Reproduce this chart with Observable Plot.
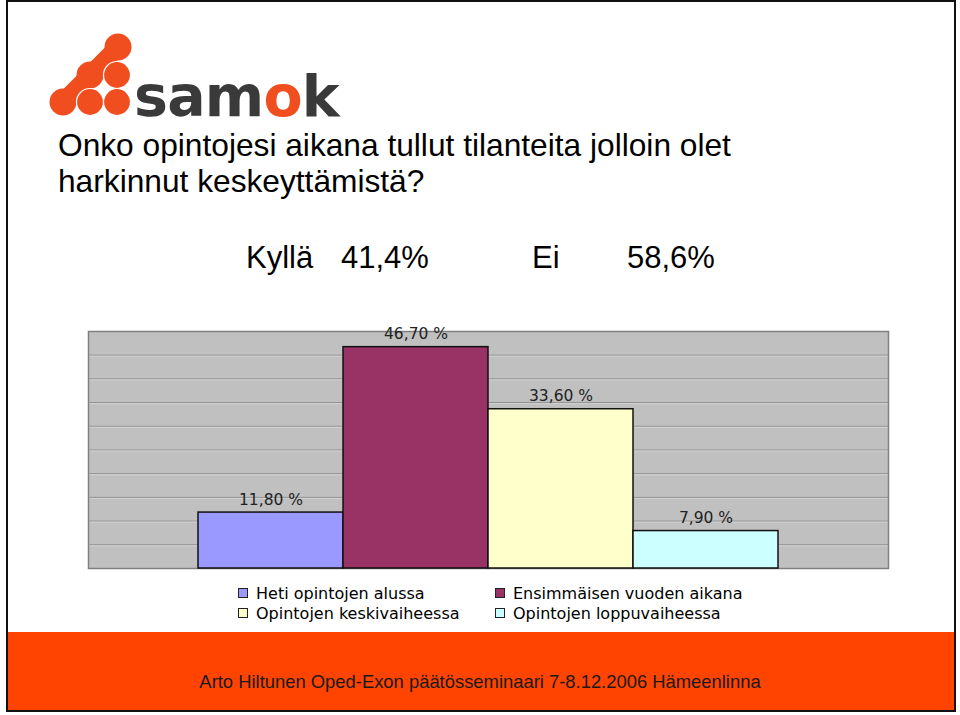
<!DOCTYPE html>
<html>
<head>
<meta charset="utf-8">
<script src="https://cdn.jsdelivr.net/npm/d3@7"></script>
<script src="https://cdn.jsdelivr.net/npm/@observablehq/plot@0.6"></script>
<style>
  html, body { margin: 0; padding: 0; background: #fff; }
  #page { position: relative; width: 960px; height: 715px; overflow: hidden; background: #fff; }
  .abs { position: absolute; }
  #frame { left: 6px; top: 0px; width: 950px; height: 712px; border: 2px solid #111; box-sizing: border-box; }
  .tline { left: 58px; font-family: "Liberation Sans", Arial, sans-serif; font-size: 31.7px; line-height: 31.7px; color: #000; white-space: nowrap; }
  .big { font-family: "Liberation Sans", Arial, sans-serif; font-size: 31px; color: #000; top: 240px; white-space: nowrap; }
  #chart { left: 0; top: 300px; }
  #legend { left: 238px; top: 584px; display: grid; grid-template-columns: 257px 260px; row-gap: 2px; font-family: "DejaVu Sans", Verdana, sans-serif; font-size: 16px; color: #000; }
  .item { display: flex; align-items: center; white-space: nowrap; height: 18px; }
  .sw { width: 8px; height: 8px; border: 1.5px solid #222; margin-right: 8px; flex: none; }
  #footer { left: 7px; top: 632px; width: 948px; height: 79px; background: #fe4400; }
  #footText { left: 0; width: 960px; top: 671px; text-align: center; font-family: "Liberation Sans", Arial, sans-serif; font-size: 18.4px; color: #1a1a1a; white-space: nowrap; }
</style>
</head>
<body>
<div id="page">
  <div id="footer" class="abs"></div>
  <div id="frame" class="abs"></div>
  <svg class="abs" style="left:0;top:0" width="420" height="129">
    <g fill="#f04e1e" stroke="#f04e1e">
      <line x1="63" y1="102" x2="90" y2="75" stroke-width="18" stroke-linecap="round"/>
      <line x1="90" y1="75" x2="118" y2="47" stroke-width="18" stroke-linecap="round"/>
      <circle cx="118" cy="47" r="13.5" stroke="none"/>
      <circle cx="90" cy="75" r="13.5" stroke="none"/>
      <circle cx="63" cy="102" r="13.5" stroke="none"/>
      <circle cx="117" cy="75" r="13.5" stroke="#fff" stroke-width="1.2"/>
      <circle cx="90" cy="102" r="13.5" stroke="#fff" stroke-width="1.2"/>
      <circle cx="117" cy="102" r="13.5" stroke="#fff" stroke-width="1.2"/>
    </g>
    <text x="134" y="116" font-family="DejaVu Sans" font-weight="bold" font-size="57" letter-spacing="-0.8" fill="#3a3a3a">sam<tspan fill="#f04e1e">o</tspan>k</text>
  </svg>
  <div class="abs tline" style="top:130px">Onko opintojesi aikana tullut tilanteita jolloin olet</div>
  <div class="abs tline" style="top:166px">harkinnut keskeyttämistä?</div>
  <div class="abs big" style="left:246px">Kyllä</div>
  <div class="abs big" style="left:341px">41,4%</div>
  <div class="abs big" style="left:532px">Ei</div>
  <div class="abs big" style="left:627px">58,6%</div>
  <div id="chart" class="abs"></div>
  <div id="legend" class="abs"></div>
  <div id="footText" class="abs">Arto Hiltunen Oped-Exon päätösseminaari 7-8.12.2006 Hämeenlinna</div>
</div>
<script>
const categories = ["Heti opintojen alussa", "Ensimmäisen vuoden aikana", "Opintojen keskivaiheessa", "Opintojen loppuvaiheessa"];
const values = [11.8, 46.7, 33.6, 7.9];
const valueLabels = ["11,80 %", "46,70 %", "33,60 %", "7,90 %"];
const colors = ["#9999ff", "#993366", "#ffffcc", "#ccffff"];
const yDomain = [0, 50];
const gridTicks = [5, 10, 15, 20, 25, 30, 35, 40, 45];

const data = categories.map((c, i) => ({cat: c, value: values[i], label: valueLabels[i]}));

const chart = Plot.plot({
  width: 960,
  height: 280,
  marginLeft: 88,
  marginRight: 72,
  marginTop: 31,
  marginBottom: 12,
  style: {fontFamily: "DejaVu Sans, Verdana, sans-serif", background: "transparent"},
  x: {domain: categories, paddingInner: 0, paddingOuter: 0.74, axis: null},
  y: {domain: yDomain, axis: null},
  color: {domain: categories, range: colors},
  marks: [
    Plot.frame({fill: "#c0c0c0", stroke: "none"}),
    Plot.ruleY(gridTicks, {stroke: "#8e8e8e", strokeWidth: 1}),
    Plot.ruleY(gridTicks, {stroke: "#d2d2d2", strokeWidth: 1, dy: 1}),
    Plot.frame({stroke: "#808080", strokeWidth: 1.5}),
    Plot.barY(data, {x: "cat", y: "value", fill: "cat", stroke: "#111", strokeWidth: 1.5}),
    Plot.text(data, {x: "cat", y: "value", text: "label", dy: -8, lineAnchor: "bottom", fontSize: 15.5, letterSpacing: 0.8, fill: "#222"})
  ]
});
document.getElementById("chart").appendChild(chart);

const legend = document.getElementById("legend");
categories.forEach((c, i) => {
  const item = document.createElement("div");
  item.className = "item";
  const sw = document.createElement("span");
  sw.className = "sw";
  sw.style.background = colors[i];
  item.appendChild(sw);
  item.appendChild(document.createTextNode(c));
  legend.appendChild(item);
});
</script>
</body>
</html>
